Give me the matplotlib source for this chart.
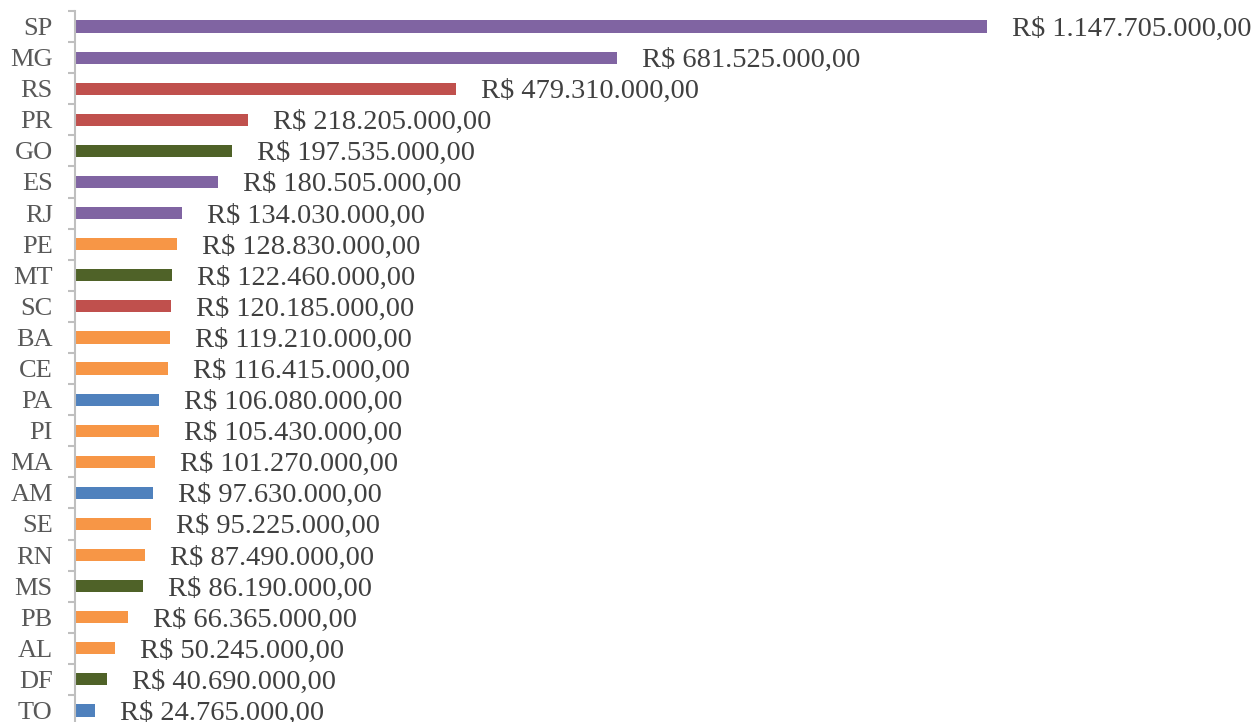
import matplotlib.pyplot as plt

estados = ["SP", "MG", "RS", "PR", "GO", "ES", "RJ", "PE", "MT", "SC", "BA", "CE",
           "PA", "PI", "MA", "AM", "SE", "RN", "MS", "PB", "AL", "DF", "TO"]
valores = [1147705000, 681525000, 479310000, 218205000, 197535000, 180505000,
           134030000, 128830000, 122460000, 120185000, 119210000, 116415000,
           106080000, 105430000, 101270000, 97630000, 95225000, 87490000,
           86190000, 66365000, 50245000, 40690000, 24765000]
regioes = ["SE", "SE", "S", "S", "CO", "SE", "SE", "NE", "CO", "S", "NE", "NE",
           "N", "NE", "NE", "N", "NE", "NE", "CO", "NE", "NE", "CO", "N"]

cores = {"SE": "#8064A2", "S": "#C0504D", "CO": "#4F6228",
         "NE": "#F79646", "N": "#4F81BD"}


def moeda(v):
    s = f"{v:,.2f}".replace(",", "X").replace(".", ",").replace("X", ".")
    return "R$ " + s


W, H = 1254, 722
fig = plt.figure(figsize=(W / 100, H / 100), dpi=100)
passo = 31.09
topo = 11
ax = fig.add_axes([75 / W, (H - topo - 23 * passo) / H, (W - 75) / W, 23 * passo / H])

y = list(range(len(estados)))
ax.barh(y, valores, height=0.39, color=[cores[r] for r in regioes], zorder=2)

escala = (987 - 75) / valores[0]
ax.set_xlim(0, (W - 75) / escala)
ax.set_ylim(len(estados) - 0.5, -0.5)

tam = 20.5
for i, v in enumerate(valores):
    ax.annotate(moeda(v), (v, i), xytext=(18, -0.33 * tam), textcoords="offset points",
                va="baseline", ha="left", fontsize=tam, color="#404040",
                family="Liberation Serif")

for s in ["top", "right", "bottom"]:
    ax.spines[s].set_visible(False)
ax.spines["left"].set_color("#BFBFBF")
ax.spines["left"].set_linewidth(1.5)
ax.set_xticks([])
ax.set_yticks(y)
ax.set_yticklabels(estados, family="Liberation Serif", fontsize=19, color="#595959")
ax.tick_params(axis="y", which="major", length=0, pad=16)
ax.set_yticks([i - 0.5 for i in range(len(estados) + 1)], minor=True)
ax.tick_params(axis="y", which="minor", length=5, width=1.5, color="#BFBFBF")

fig.savefig("out.png", dpi=100)
